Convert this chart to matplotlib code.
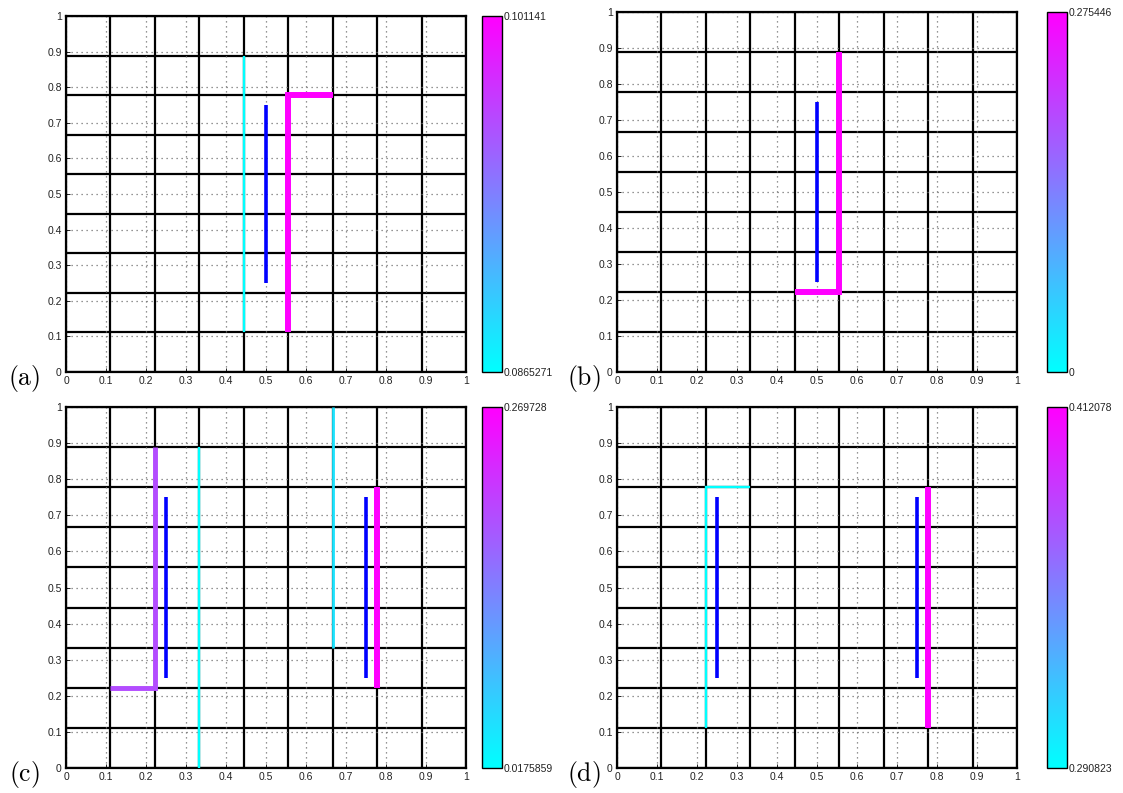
import numpy as np
import matplotlib
matplotlib.use("Agg")
import matplotlib.pyplot as plt
from matplotlib import cm, colors

plt.rcParams["font.family"] = ["Liberation Sans", "DejaVu Sans"]
plt.rcParams["mathtext.fontset"] = "cm"

# data: each panel has colour range, fixed (blue) segments, and coloured paths with a value
panel_labels = ["(a)", "(b)", "(c)", "(d)"]
vmins = [0.0865271, 0.0, 0.0175859, 0.290823]
vmaxs = [0.101141, 0.275446, 0.269728, 0.412078]
vmin_labels = ["0.0865271", "0", "0.0175859", "0.290823"]
vmax_labels = ["0.101141", "0.275446", "0.269728", "0.412078"]

# blue segments: (x, y0, y1)
blue_a = [(0.5, 0.25, 0.75)]
blue_b = [(0.5, 0.25, 0.75)]
blue_c = [(0.25, 0.25, 0.75), (0.75, 0.25, 0.75)]
blue_d = [(0.25, 0.25, 0.75), (0.75, 0.25, 0.75)]
blue_segs = [blue_a, blue_b, blue_c, blue_d]

# coloured paths in grid units (1/9), with value
paths_a = [([4, 4], [1, 8], 0.0865271),
           ([6, 5, 5], [7, 7, 1], 0.101141)]
paths_b = [([4, 5, 5], [2, 2, 8], 0.275446)]
paths_c = [([1, 2, 2], [2, 2, 8], 0.194),
           ([3, 3], [0, 8], 0.0175859),
           ([6, 6], [3, 9], 0.045),
           ([7, 7], [2, 7], 0.269728)]
paths_d = [([3, 2, 2], [7, 7, 1], 0.290823),
           ([7, 7], [1, 7], 0.412078)]
paths = [paths_a, paths_b, paths_c, paths_d]

W, H = 1123, 793
fig = plt.figure(figsize=(W / 100, H / 100), dpi=100)

# pixel boxes: (left, top, right, bottom)
ax_boxes = [(66, 16, 466, 372), (617, 12, 1017, 372),
            (66, 407, 466, 768), (617, 407, 1017, 768)]
cb_boxes = [(482, 16, 502, 372), (1047, 12, 1067, 372),
            (482, 407, 502, 768), (1047, 407, 1067, 768)]
label_pos = [(24, 379), (584, 379), (24, 774), (584, 774)]


def frac(box):
    l, t, r, b = box
    return [l / W, 1 - b / H, (r - l) / W, (b - t) / H]


cmap = matplotlib.colormaps["cool"]
ticks = np.round(np.arange(0, 1.01, 0.1), 1)
tick_labels = ["0"] + ["%.1f" % t for t in ticks[1:-1]] + ["1"]
edges = np.arange(10) / 9

for i in range(4):
    ax = fig.add_axes(frac(ax_boxes[i]))
    ax.set_xlim(0, 1)
    ax.set_ylim(0, 1)
    ax.set_xticks(ticks)
    ax.set_yticks(ticks)
    ax.set_xticklabels(tick_labels)
    ax.set_yticklabels(tick_labels)
    ax.tick_params(direction="in", length=3, width=0.6, labelsize=7.5, pad=3,
                   labelcolor="#222222")
    ax.grid(True, linestyle=(0, (1, 3)), color="0.45", linewidth=0.9, zorder=0)
    for s in ax.spines.values():
        s.set_linewidth(1.6)

    for e in edges:
        ax.plot([e, e], [0, 1], color="black", lw=1.6, zorder=1)
        ax.plot([0, 1], [e, e], color="black", lw=1.6, zorder=1)

    norm = colors.Normalize(vmins[i], vmaxs[i])
    for xs, ys, val in paths[i]:
        t = norm(val)
        ax.plot(np.array(xs) / 9, np.array(ys) / 9, color=cmap(t),
                lw=1.7 + 2.6 * t, solid_joinstyle="miter",
                solid_capstyle="butt", zorder=3)

    for x, y0, y1 in blue_segs[i]:
        ax.plot([x, x], [y0, y1], color="blue", lw=2.6,
                solid_capstyle="butt", zorder=4)

    cax = fig.add_axes(frac(cb_boxes[i]))
    sm = cm.ScalarMappable(norm=norm, cmap=cmap)
    cb = fig.colorbar(sm, cax=cax)
    cb.set_ticks([vmins[i], vmaxs[i]])
    cb.set_ticklabels([vmin_labels[i], vmax_labels[i]])
    cb.ax.tick_params(labelsize=7.5, direction="in", length=2, width=0.6, pad=1,
                      labelcolor="#222222")
    cb.outline.set_linewidth(1.0)

    lx, ly = label_pos[i]
    fig.text(lx / W, 1 - ly / H, r"$\mathrm{%s}$" % panel_labels[i],
             fontsize=18.5, ha="center", va="center")

fig.savefig("out.png", dpi=100)
